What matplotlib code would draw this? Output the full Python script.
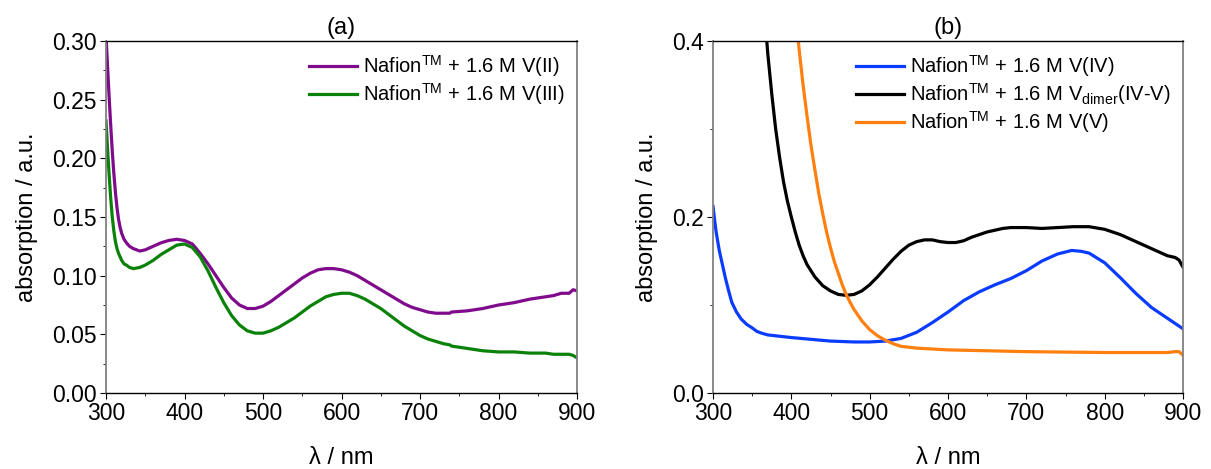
import matplotlib
matplotlib.use('Agg')
import matplotlib.pyplot as plt

plt.rcParams['font.family'] = ['Liberation Sans', 'DejaVu Sans']
plt.rcParams['mathtext.fontset'] = 'custom'
plt.rcParams['mathtext.rm'] = 'Liberation Sans'

# panel (a) data
wl_a = [300, 302, 304, 306, 308, 310, 312, 314, 316, 318, 320, 323, 326, 330, 335,
        343, 350, 360, 370, 380, 390, 400, 410, 420, 430, 440, 450, 460, 470, 480,
        490, 500, 510, 520, 530, 540, 550, 560, 570, 580, 590, 600, 610, 620, 630,
        640, 650, 660, 670, 680, 690, 700, 710, 720, 730, 738, 740, 760, 780, 800,
        820, 840, 860, 870, 880, 890, 895, 900]
v2 = [0.305, 0.278, 0.252, 0.228, 0.206, 0.187, 0.171, 0.158, 0.148, 0.141, 0.136,
      0.131, 0.128, 0.125, 0.123, 0.121, 0.122, 0.125, 0.128, 0.130, 0.131, 0.130,
      0.127, 0.119, 0.110, 0.100, 0.090, 0.081, 0.075, 0.072, 0.072, 0.074, 0.078,
      0.083, 0.088, 0.093, 0.098, 0.102, 0.105, 0.106, 0.106, 0.105, 0.103, 0.100,
      0.096, 0.092, 0.088, 0.084, 0.080, 0.076, 0.073, 0.071, 0.069, 0.068, 0.068,
      0.068, 0.069, 0.070, 0.072, 0.075, 0.077, 0.080, 0.082, 0.083, 0.085, 0.085,
      0.088, 0.087]
v3 = [0.232, 0.208, 0.186, 0.166, 0.150, 0.138, 0.129, 0.123, 0.119, 0.116, 0.113,
      0.110, 0.109, 0.107, 0.106, 0.107, 0.109, 0.113, 0.118, 0.122, 0.126, 0.127,
      0.124, 0.116, 0.104, 0.090, 0.077, 0.066, 0.058, 0.053, 0.051, 0.051, 0.053,
      0.056, 0.060, 0.064, 0.069, 0.074, 0.078, 0.082, 0.084, 0.085, 0.085, 0.083,
      0.080, 0.076, 0.072, 0.067, 0.062, 0.057, 0.053, 0.049, 0.046, 0.044, 0.042,
      0.041, 0.040, 0.038, 0.036, 0.035, 0.035, 0.034, 0.034, 0.033, 0.033, 0.033,
      0.032, 0.030]

# panel (b) data
wl_b4 = [300, 302, 304, 308, 312, 316, 320, 324, 330, 336, 343, 350, 356, 362, 370,
         400, 450, 480, 500, 520, 540, 560, 580, 600, 620, 640, 660, 680, 700, 720,
         740, 758, 770, 780, 800, 820, 840, 860, 880, 900]
v4 = [0.212, 0.197, 0.183, 0.162, 0.146, 0.130, 0.116, 0.103, 0.092, 0.084, 0.078,
      0.074, 0.070, 0.068, 0.066, 0.063, 0.059, 0.058, 0.058, 0.059, 0.062, 0.069,
      0.080, 0.092, 0.105, 0.115, 0.123, 0.130, 0.139, 0.150, 0.158, 0.162, 0.161,
      0.159, 0.148, 0.131, 0.113, 0.097, 0.085, 0.073]
wl_bd = [362, 366, 370, 375, 380, 385, 390, 395, 400, 405, 410, 415, 420, 430, 440,
         450, 460, 470, 480, 490, 500, 510, 520, 530, 540, 550, 560, 570, 580, 590,
         600, 610, 620, 630, 640, 650, 660, 670, 680, 700, 720, 740, 760, 780, 800,
         820, 840, 860, 880, 890, 895, 900]
vdim = [0.48, 0.43, 0.385, 0.34, 0.300, 0.268, 0.240, 0.218, 0.200, 0.183, 0.168,
        0.156, 0.146, 0.132, 0.122, 0.116, 0.112, 0.111, 0.112, 0.116, 0.123, 0.132,
        0.142, 0.152, 0.161, 0.168, 0.172, 0.174, 0.174, 0.172, 0.171, 0.171, 0.173,
        0.177, 0.180, 0.183, 0.185, 0.187, 0.188, 0.188, 0.187, 0.188, 0.189, 0.189,
        0.186, 0.180, 0.172, 0.164, 0.156, 0.154, 0.151, 0.143]
wl_b5 = [400, 405, 410, 415, 420, 425, 430, 435, 440, 445, 450, 455, 460, 465, 470,
         475, 480, 490, 500, 510, 520, 530, 540, 560, 580, 600, 650, 700, 800, 880,
         890, 895, 900]
v5 = [0.47, 0.435, 0.39, 0.35, 0.315, 0.282, 0.254, 0.227, 0.204, 0.183, 0.165,
      0.149, 0.136, 0.123, 0.112, 0.103, 0.095, 0.082, 0.072, 0.065, 0.060, 0.056,
      0.053, 0.051, 0.050, 0.049, 0.048, 0.047, 0.046, 0.046, 0.047, 0.047, 0.043]

fig = plt.figure(figsize=(12.11, 4.69), dpi=100)
ax1 = fig.add_axes([106 / 1211, 1 - 393 / 469, 471 / 1211, 352 / 469])
ax2 = fig.add_axes([713 / 1211, 1 - 393 / 469, 470 / 1211, 352 / 469])

lw = 2.3
ax1.plot(wl_a, v2, color='#800a8c', lw=lw, label=r'Nafion$^{\mathrm{TM}}$ + 1.6 M V(II)')
ax1.plot(wl_a, v3, color='#0a820a', lw=lw, label=r'Nafion$^{\mathrm{TM}}$ + 1.6 M V(III)')
ax1.set_ylim(0, 0.30)
ax1.set_yticks([0.0, 0.05, 0.10, 0.15, 0.20, 0.25, 0.30])
ax1.set_yticklabels(['0.00', '0.05', '0.10', '0.15', '0.20', '0.25', '0.30'])
ax1.set_yticks([0.025, 0.075, 0.125, 0.175, 0.225, 0.275], minor=True)
ax1.set_title('(a)', fontsize=17, pad=5)

ax2.plot(wl_b4, v4, color='#0a3cff', lw=lw, label=r'Nafion$^{\mathrm{TM}}$ + 1.6 M V(IV)')
ax2.plot(wl_bd, vdim, color='black', lw=lw,
         label=r'Nafion$^{\mathrm{TM}}$ + 1.6 M V$_{\mathrm{dimer}}$(IV-V)')
ax2.plot(wl_b5, v5, color='#ff7f0f', lw=lw, label=r'Nafion$^{\mathrm{TM}}$ + 1.6 M V(V)')
ax2.set_ylim(0, 0.4)
ax2.set_yticks([0.0, 0.2, 0.4])
ax2.set_yticks([0.1, 0.3], minor=True)
ax2.set_title('(b)', fontsize=17, pad=5)

for ax in (ax1, ax2):
    ax.set_xlim(300, 900)
    ax.set_xticks([300, 400, 500, 600, 700, 800, 900])
    ax.set_xticks([350, 450, 550, 650, 750, 850], minor=True)
    ax.tick_params(axis='both', which='major', direction='out', length=4,
                   labelsize=16.5, pad=2.5)
    ax.tick_params(axis='both', which='minor', direction='out', length=2.5)
    ax.set_xlabel('λ / nm', fontsize=17, labelpad=16)
    ax.set_ylabel('absorption / a.u.', fontsize=17, labelpad=10)
    for s in ('left', 'right'):
        ax.spines[s].set_color('#808080')
        ax.spines[s].set_linewidth(1.3)
    for s in ('top', 'bottom'):
        ax.spines[s].set_color('black')
        ax.spines[s].set_linewidth(1.0)
    ax.legend(loc='upper right', frameon=False, fontsize=14.5, handlelength=2.4,
              handletextpad=0.3, labelspacing=0.1, borderaxespad=0.2)

fig.savefig('out.png', dpi=100)
